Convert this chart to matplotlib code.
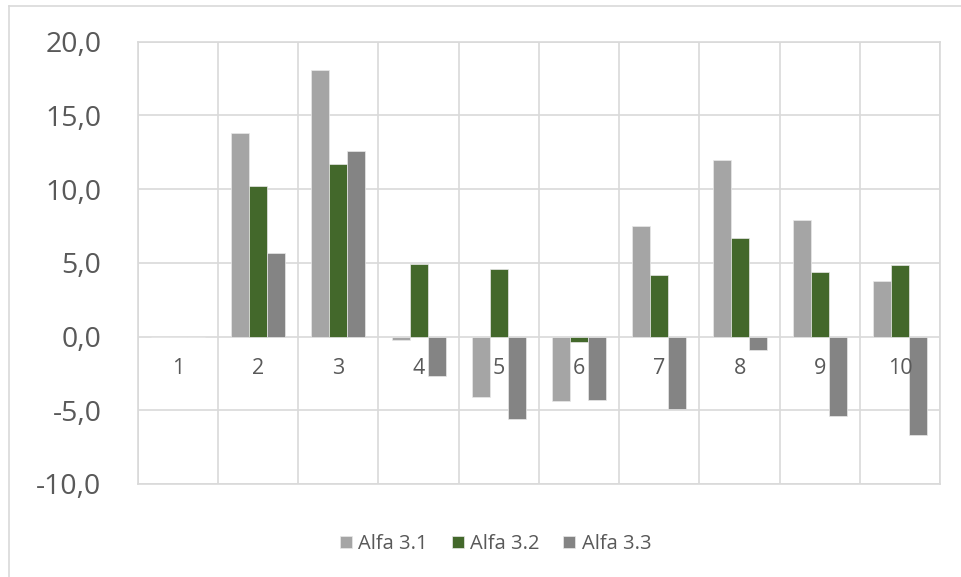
import matplotlib.pyplot as plt
import numpy as np

plt.rcParams["font.family"] = ["Open Sans", "DejaVu Sans"]

categories = ["1", "2", "3", "4", "5", "6", "7", "8", "9", "10"]
alfa_31 = [0.0, 13.8, 18.1, -0.25, -4.1, -4.4, 7.5, 12.0, 7.9, 3.8]
alfa_32 = [0.0, 10.2, 11.7, 4.9, 4.6, -0.35, 4.2, 6.7, 4.4, 4.85]
alfa_33 = [0.0, 5.7, 12.6, -2.7, -5.6, -4.3, -4.9, -0.9, -5.4, -6.7]
series_names = ["Alfa 3.1", "Alfa 3.2", "Alfa 3.3"]

colors = ["#A5A5A5", "#43682B", "#848484"]
grid_col = "#D9D9D9"
text_col = "#595959"

fig = plt.figure(figsize=(9.62, 5.77), dpi=100)
ax = fig.add_axes([0.1431, 0.1612, 0.8343, 0.7666])

x = np.arange(len(categories))
w = 0.224
for i, (vals, name) in enumerate(zip([alfa_31, alfa_32, alfa_33], series_names)):
    ax.bar(x + (i - 1) * w, vals, w, color=colors[i], label=name,
           edgecolor="#E8E8E8", linewidth=0.5, zorder=3)

ax.set_xlim(-0.5, len(categories) - 0.5)
ax.set_ylim(-10, 20)
ax.set_yticks(np.arange(-10, 21, 5))
ax.set_yticklabels([f"{v:.1f}".replace(".", ",") for v in np.arange(-10, 21, 5)])
ax.tick_params(axis="y", length=0, pad=26, labelsize=20.5, labelcolor=text_col)
ax.set_xticks([])

# grid: horizontal at ticks, vertical between categories
for v in np.arange(-10, 21, 5):
    ax.axhline(v, color=grid_col, lw=1.2, zorder=1)
for b in np.arange(-0.5, len(categories), 1.0):
    ax.axvline(b, color=grid_col, lw=1.2, zorder=1)
for s in ax.spines.values():
    s.set_color(grid_col)
    s.set_linewidth(1.2)

# category labels sit just under the zero line
for xi, c in zip(x, categories):
    ax.text(xi, -2.2, c, ha="center", va="center", fontsize=15.5, color=text_col, zorder=4)

leg = fig.legend(loc="center", bbox_to_anchor=(0.515, 0.057), ncol=3, frameon=False,
                 fontsize=14.5, handlelength=0.6, handleheight=0.6, handletextpad=0.3,
                 columnspacing=1.2)
for t in leg.get_texts():
    t.set_color(text_col)

# chart area border (top and left visible)
fig.add_artist(plt.Line2D([8.5 / 962, 1.0], [1 - 6 / 577, 1 - 6 / 577],
                          transform=fig.transFigure, color=grid_col, lw=1.2))
fig.add_artist(plt.Line2D([8.5 / 962, 8.5 / 962], [0, 1 - 6 / 577],
                          transform=fig.transFigure, color=grid_col, lw=1.2))

fig.savefig("out.png", dpi=100)
